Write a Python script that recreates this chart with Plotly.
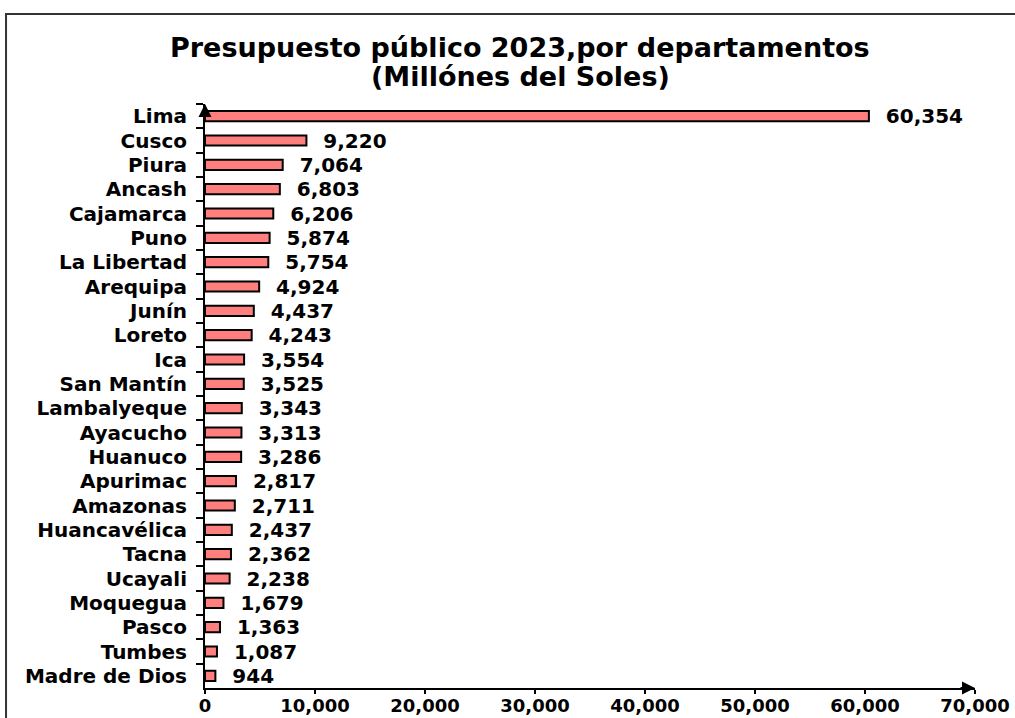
import plotly.graph_objects as go

departamentos = ["Lima", "Cusco", "Piura", "Ancash", "Cajamarca", "Puno", "La Libertad",
                 "Arequipa", "Junín", "Loreto", "Ica", "San Mantín", "Lambalyeque",
                 "Ayacucho", "Huanuco", "Apurimac", "Amazonas", "Huancavélica", "Tacna",
                 "Ucayali", "Moquegua", "Pasco", "Tumbes", "Madre de Dios"]
presupuesto = [60354, 9220, 7064, 6803, 6206, 5874, 5754, 4924, 4437, 4243, 3554, 3525,
               3343, 3313, 3286, 2817, 2711, 2437, 2362, 2238, 1679, 1363, 1087, 944]
x_ticks = [0, 10000, 20000, 30000, 40000, 50000, 60000, 70000]
x_tick_labels = ["0", "10,000", "20,000", "30,000", "40,000", "50,000", "60,000", "70,000"]
title_lines = ["Presupuesto público 2023,por departamentos", "(Millónes del Soles)"]

FONT = "DejaVu Sans"

fig = go.Figure(go.Bar(
    x=presupuesto, y=departamentos, orientation="h",
    width=0.42,
    marker=dict(color="#FF7F7F", line=dict(color="black", width=2)),
    text=["  " + f"{v:,}" for v in presupuesto],
    textposition="outside", cliponaxis=False, constraintext="none",
    textfont=dict(family=FONT, size=20, color="black", weight="bold"),
))

fig.update_layout(
    width=1015, height=718,
    paper_bgcolor="white", plot_bgcolor="white",
    margin=dict(l=205, r=40, t=104, b=30, autoexpand=False),
    showlegend=False,
    xaxis=dict(
        range=[0, 70000], tickvals=x_ticks, ticktext=x_tick_labels,
        automargin=False,
        showgrid=False, zeroline=False, showline=True, linecolor="black", linewidth=2,
        ticks="outside", ticklen=4, tickwidth=2, tickcolor="black",
        ticklabelstandoff=-4,
        tickfont=dict(family=FONT, size=18, color="black", weight="bold"),
    ),
    yaxis=dict(
        type="category", categoryorder="array", categoryarray=departamentos,
        range=[23.5, -0.5], automargin=False,
        showgrid=False, showline=True, linecolor="black", linewidth=2,
        ticks="outside", tickson="boundaries", ticklen=7, tickwidth=2, tickcolor="black",
        ticklabelstandoff=12,
        tickfont=dict(family=FONT, size=20, color="black", weight="bold"),
    ),
    shapes=[dict(type="rect", xref="paper", yref="paper",
                 x0=-0.2584, x1=1.1, y0=-0.2, y1=1.154,
                 line=dict(color="#333333", width=2), fillcolor="rgba(0,0,0,0)")],
    annotations=[
        dict(xref="paper", yref="paper", x=(520 - 205) / 770, y=(688 - 47) / 584,
             xanchor="center", yanchor="middle", showarrow=False, text=title_lines[0],
             font=dict(family=FONT, size=27, color="black", weight="bold")),
        dict(xref="paper", yref="paper", x=(520 - 205) / 770, y=(688 - 76) / 584,
             xanchor="center", yanchor="middle", showarrow=False, text=title_lines[1],
             font=dict(family=FONT, size=27, color="black", weight="bold")),
        dict(xref="x", yref="paper", x=0, y=1.0, ax=0, ay=14, text="",
             showarrow=True, arrowhead=2, arrowsize=1.3, arrowwidth=2, arrowcolor="black"),
        dict(xref="paper", yref="paper", x=1.0, y=0, ax=-16, ay=0, text="",
             showarrow=True, arrowhead=2, arrowsize=1.3, arrowwidth=2, arrowcolor="black"),
    ],
)

fig.write_html("out.html", config={"displayModeBar": False},
               post_script="document.body.style.margin='0px';")
